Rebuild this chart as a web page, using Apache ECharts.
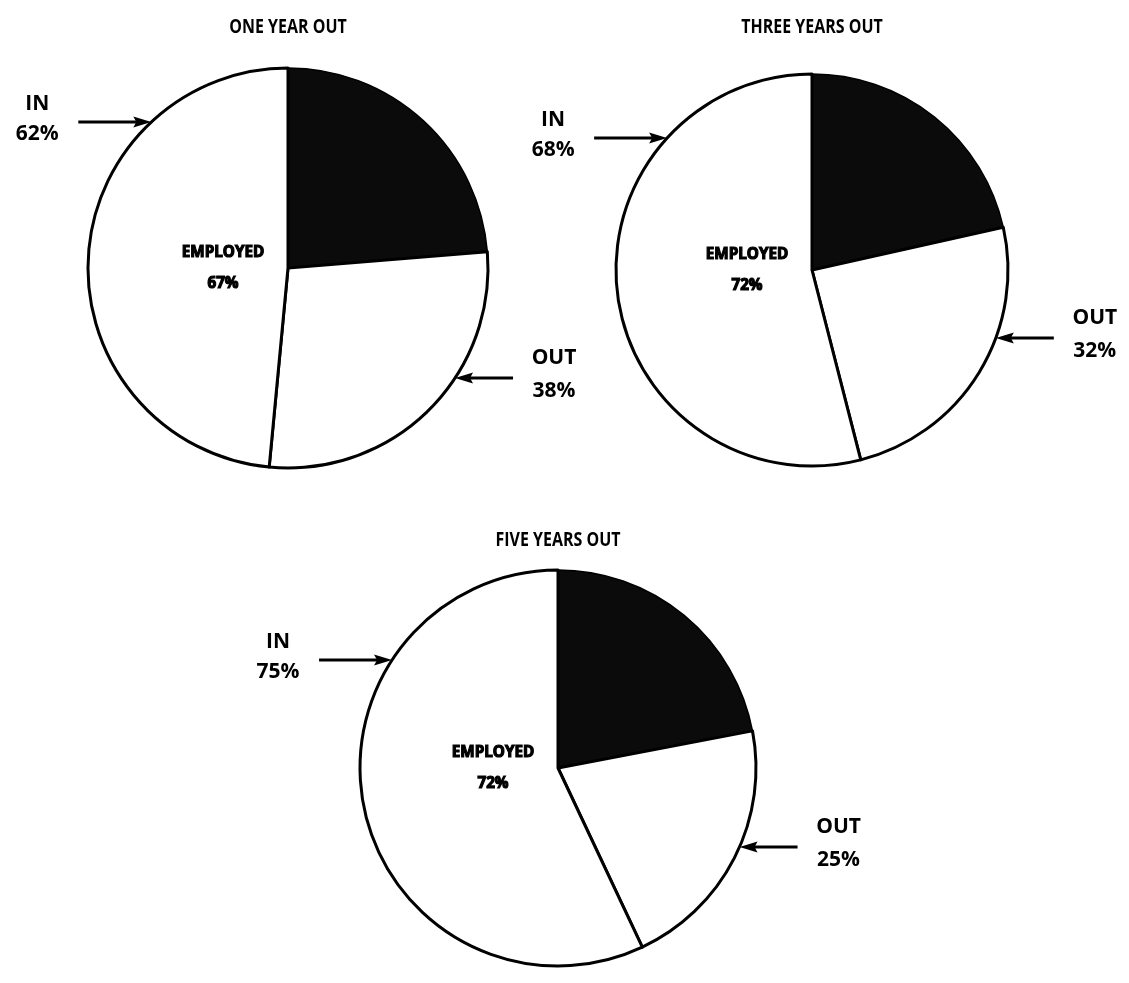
<!DOCTYPE html>
<html>
<head>
<meta charset="utf-8">
<script src="https://cdn.jsdelivr.net/npm/echarts@6/dist/echarts.min.js"></script>
<style>
html,body{margin:0;padding:0;background:#fff;}
#chart{width:1129px;height:983px;}
</style>
</head>
<body>
<div id="chart"></div>
<script>
// ---- data ----
const categories = ['Not employed', 'Employed, out of field', 'Employed, in field'];
const panelTitles = ['ONE YEAR OUT', 'THREE YEARS OUT', 'FIVE YEARS OUT'];
const employedPct = [67, 72, 72];
const inPct = [62, 68, 75];
const outPct = [38, 32, 25];
// slice sizes as drawn in the picture (share of the circle, %)
const notEmployedShare = [23.7, 21.5, 22];
const outShare = [27.8, 24.5, 21];
const inShare = [48.5, 54, 57];

// ---- layout ----
const centers = [[288, 268], [812, 270], [558, 768]];
const radii = [200, 196, 198];
const titleY = [28, 28, 541];
const inArrowY = [122, 138, 660];
const outArrowY = [378, 338, 847];
const inArrowLen = 73;
const outArrowLen = 58;

const chart = echarts.init(document.getElementById('chart'), null, {renderer: 'canvas'});

const series = [];
const graphic = [];
const FAM = '"Open Sans", sans-serif';

function arrow(tailX, tipX, y) {
  const dir = tipX > tailX ? 1 : -1;
  graphic.push({type: 'line', silent: true, z: 100,
    shape: {x1: tailX, y1: y, x2: tipX - dir * 10, y2: y},
    style: {stroke: '#000', lineWidth: 3}});
  graphic.push({type: 'polygon', silent: true, z: 100,
    shape: {points: [[tipX, y], [tipX - dir * 18, y - 5.5], [tipX - dir * 15, y], [tipX - dir * 18, y + 5.5]]},
    style: {fill: '#000'}});
}

for (let i = 0; i < 3; i++) {
  const [cx, cy] = centers[i];
  const R = radii[i];
  series.push({
    type: 'pie',
    center: [cx, cy],
    radius: [0, R],
    startAngle: 90,
    clockwise: true,
    silent: true,
    animation: false,
    label: {show: false},
    labelLine: {show: false},
    itemStyle: {borderColor: '#000', borderWidth: 3},
    data: [
      {name: categories[0], value: notEmployedShare[i], itemStyle: {color: '#0b0b0b', borderWidth: 1.5}},
      {name: categories[1], value: outShare[i], itemStyle: {color: '#ffffff'}},
      {name: categories[2], value: inShare[i], itemStyle: {color: '#ffffff'}}
    ]
  });

  // title
  graphic.push({type: 'text', silent: true, z: 100, x: cx, y: titleY[i], scaleX: 0.84,
    style: {text: panelTitles[i], fontFamily: FAM, fontSize: 19, fontWeight: 'bold',
      textAlign: 'center', textVerticalAlign: 'middle', fill: '#000'}});

  // inner label
  graphic.push({type: 'text', silent: true, z: 100, x: cx - 65, y: cy, scaleX: 0.95,
    style: {text: 'EMPLOYED\n' + employedPct[i] + '%', fontFamily: FAM, fontSize: 16, fontWeight: 'bold',
      lineHeight: 31, textAlign: 'center', textVerticalAlign: 'middle', fill: '#000',
      stroke: '#000', lineWidth: 1.2}});

  // IN arrow (left side, pointing right to the circle)
  const yi = inArrowY[i];
  const tipIn = cx - Math.sqrt(R * R - (yi - cy) * (yi - cy));
  arrow(tipIn - inArrowLen, tipIn, yi);
  graphic.push({type: 'text', silent: true, z: 100, x: tipIn - inArrowLen - 41, y: yi - 3,
    style: {text: 'IN\n' + inPct[i] + '%', fontFamily: FAM, fontSize: 21, fontWeight: 'bold', lineHeight: 30,
      textAlign: 'center', textVerticalAlign: 'middle', fill: '#000'}});

  // OUT arrow (right side, pointing left to the circle)
  const yo = outArrowY[i];
  const tipOut = cx + Math.sqrt(R * R - (yo - cy) * (yo - cy));
  arrow(tipOut + outArrowLen, tipOut, yo);
  graphic.push({type: 'text', silent: true, z: 100, x: tipOut + outArrowLen + 41, y: yo - 3,
    style: {text: 'OUT\n' + outPct[i] + '%', fontFamily: FAM, fontSize: 21, fontWeight: 'bold', lineHeight: 33,
      textAlign: 'center', textVerticalAlign: 'middle', fill: '#000'}});
}

chart.setOption({
  backgroundColor: '#ffffff',
  animation: false,
  series: series,
  graphic: graphic
});
</script>
</body>
</html>
